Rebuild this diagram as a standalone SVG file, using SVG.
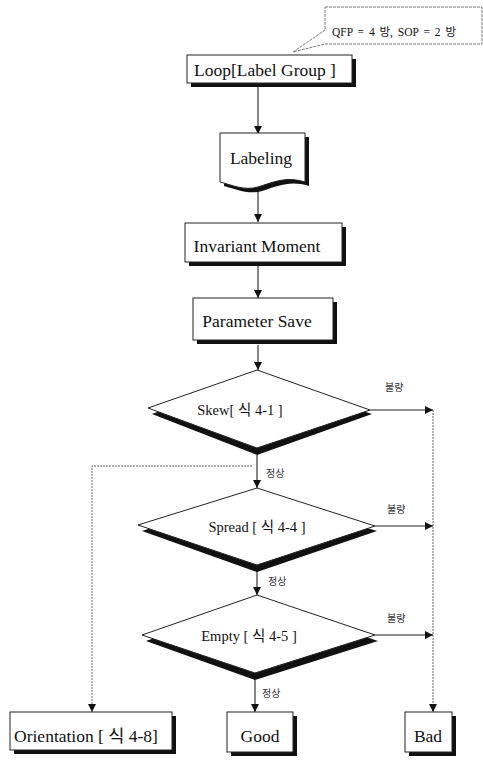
<svg xmlns="http://www.w3.org/2000/svg" width="483" height="761" viewBox="0 0 483 761">
<defs>
<style>
.box{fill:#fff;stroke:#222;stroke-width:1}
.sh{fill:#111}
.t{font-family:"Liberation Serif","Noto Sans CJK KR",serif;font-size:17.5px;fill:#111;text-anchor:middle}
.d{font-family:"Liberation Serif","Noto Sans CJK KR",serif;font-size:14.5px;fill:#111;text-anchor:middle}
.k{font-family:"Noto Sans CJK KR",sans-serif;font-size:10px;fill:#333}
.c{fill:none;stroke:#222;stroke-width:1.1}
.g{fill:none;stroke:#666;stroke-width:1;stroke-dasharray:2 1}
</style>
<marker id="ar" viewBox="0 0 10 10" refX="10" refY="5" markerWidth="8" markerHeight="8" orient="auto" markerUnits="userSpaceOnUse">
<path d="M0 0 L10 5 L0 10 Z" fill="#111"/>
</marker>
</defs>
<rect width="483" height="761" fill="#fff"/>

<g id="callout">
<path d="M325 7 H482 V44 H325 L293 52 L325 30 Z" fill="#fff" stroke="#555" stroke-width="0.8" stroke-dasharray="3 1"/>
<text x="332" y="36" font-family="Liberation Serif,Noto Sans CJK KR,serif" font-size="11.5" fill="#111" word-spacing="2">QFP = 4 방, SOP = 2 방</text>
</g>

<g id="connectors">
<line class="c" x1="258" y1="87" x2="258" y2="134" marker-end="url(#ar)"/>
<line class="c" x1="258" y1="190" x2="258" y2="222" marker-end="url(#ar)"/>
<line class="c" x1="258" y1="266" x2="258" y2="298" marker-end="url(#ar)"/>
<line class="c" x1="258" y1="345" x2="258" y2="370" marker-end="url(#ar)"/>
<line class="c" x1="257" y1="450" x2="257" y2="488" marker-end="url(#ar)"/>
<line class="c" x1="257" y1="568" x2="257" y2="595" marker-end="url(#ar)"/>
<line class="c" x1="255" y1="676" x2="255" y2="712" marker-end="url(#ar)"/>
<line class="c" x1="370" y1="410" x2="433" y2="410" marker-end="url(#ar)"/>
<line class="c" x1="375" y1="526" x2="433" y2="526" marker-end="url(#ar)"/>
<line class="c" x1="375" y1="635" x2="433" y2="635" marker-end="url(#ar)"/>
<path class="g" d="M433 410 V712" marker-end="url(#ar)"/>
<path class="g" d="M252 466 H92 V712" marker-end="url(#ar)"/>
<text class="k" x="385" y="391">불량</text>
<text class="k" x="266" y="477">정상</text>
<text class="k" x="387" y="513">불량</text>
<text class="k" x="268" y="585">정상</text>
<text class="k" x="387" y="622">불량</text>
<text class="k" x="262" y="697">정상</text>
</g>

<g id="loop">
<rect class="sh" x="191" y="59" width="165" height="28"/>
<rect class="box" x="187" y="55" width="165" height="28"/>
<text class="t" x="265" y="76">Loop[Label Group ]</text>
</g>

<g id="labeling">
<path class="sh" d="M224 137 H309 V186 C290 180 278 186 262 191 C248 195 236 189 224 186 Z"/>
<path class="box" d="M220 133 H305 V182 C286 176 274 182 258 187 C244 191 232 185 220 182 Z"/>
<text class="t" x="261" y="164">Labeling</text>
</g>

<g id="invariant">
<rect class="sh" x="189" y="227" width="157" height="39"/>
<rect class="box" x="185" y="223" width="157" height="39"/>
<text class="t" x="257" y="252">Invariant Moment</text>
</g>

<g id="param">
<rect class="sh" x="197" y="302" width="140" height="42"/>
<rect class="box" x="193" y="298" width="140" height="42"/>
<text class="t" x="257" y="327">Parameter Save</text>
</g>

<g id="skew">
<polygon class="sh" points="257,376 152,414 257,455 372,414"/>
<polygon class="box" points="257,370 148,408 257,448 370,410"/>
<text class="d" x="240" y="415">Skew[ 식 4-1 ]</text>
</g>

<g id="spread">
<polygon class="sh" points="257,494 142,531 257,572 377,531"/>
<polygon class="box" points="257,488 138,525 257,565 375,526"/>
<text class="d" x="257" y="532">Spread [ 식 4-4 ]</text>
</g>

<g id="empty">
<polygon class="sh" points="257,601 146,641 255,680 378,641"/>
<polygon class="box" points="257,595 142,635 255,673 375,635"/>
<text class="d" x="249" y="641">Empty [ 식 4-5 ]</text>
</g>

<g id="orientation">
<rect class="sh" x="14" y="716" width="162" height="38"/>
<rect class="box" x="10" y="712" width="162" height="38"/>
<text class="t" x="86" y="742">Orientation [ 식 4-8]</text>
</g>

<g id="good">
<rect class="sh" x="231" y="716" width="66" height="40"/>
<rect class="box" x="227" y="712" width="66" height="40"/>
<text class="t" x="260" y="742">Good</text>
</g>

<g id="bad">
<rect class="sh" x="409" y="716" width="47" height="40"/>
<rect class="box" x="405" y="712" width="47" height="40"/>
<text class="t" x="428" y="742">Bad</text>
</g>
</svg>
